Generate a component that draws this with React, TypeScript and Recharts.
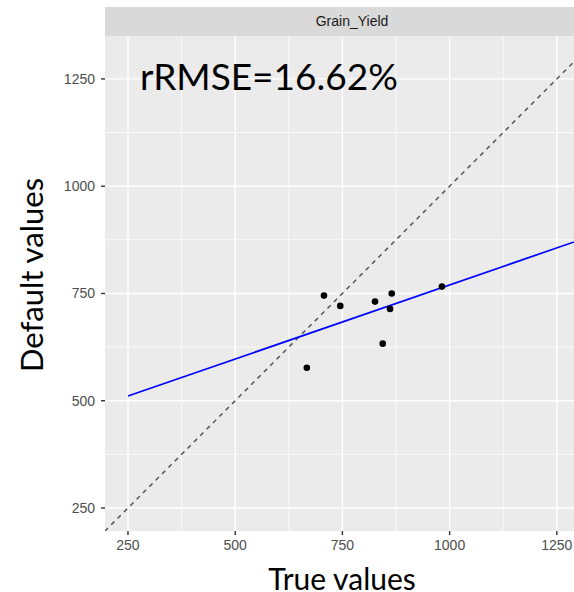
import React from 'react'
import {
  ScatterChart,
  Scatter,
  XAxis,
  YAxis,
  CartesianGrid,
} from 'recharts'

// observed points (true vs default)
const trueValues = [707, 745, 826, 865, 861, 982, 844, 667]
const defaultValues = [745, 721, 731, 750, 714, 766, 633, 577]

// fitted lm line ends
const fitX = [250, 1290]
const fitY = [511, 870]

// 1:1 line ends
const oneToOne = [196, 1290]

const majorTicks = [250, 500, 750, 1000, 1250]
const minorTicks = [375, 625, 875, 1125]

const points = trueValues.map((x, i) => ({ x, y: defaultValues[i] }))
const fitLine = fitX.map((x, i) => ({ x, y: fitY[i] }))
const idLine = oneToOne.map((v) => ({ x: v, y: v }))

const W = 574
const H = 592
const tickStyle = { fill: '#4D4D4D', fontSize: 14, fontFamily: 'Liberation Sans, Arial, sans-serif' }
const noShape = () => <g />
const dot = (p: any) => <circle cx={p.cx} cy={p.cy} r={3.3} fill="#000" />

export default function App() {
  return (
    <div style={{ position: 'absolute', left: 0, top: 0, width: W, height: H, background: '#fff', overflow: 'hidden' }}>
      <ScatterChart
        width={W}
        height={H}
        margin={{ top: 36, right: 0, bottom: 0, left: 0 }}
      >
        <CartesianGrid
          fill="#EBEBEB"
          stroke="#FFFFFF"
          strokeWidth={0.7}
          horizontalValues={minorTicks}
          verticalValues={minorTicks}
        />
        <CartesianGrid
          stroke="#FFFFFF"
          strokeWidth={1.4}
          horizontalValues={majorTicks}
          verticalValues={majorTicks}
        />
        <XAxis
          type="number"
          dataKey="x"
          height={61}
          domain={[196.4, 1290]}
          allowDataOverflow
          ticks={majorTicks}
          axisLine={false}
          tickLine={{ stroke: '#333333', strokeWidth: 1.4 }}
          tickSize={4}
          tickMargin={5}
          tick={tickStyle}
        />
        <YAxis
          type="number"
          dataKey="y"
          width={105}
          domain={[196.4, 1350]}
          allowDataOverflow
          ticks={majorTicks}
          axisLine={false}
          tickLine={{ stroke: '#333333', strokeWidth: 1.4 }}
          tickSize={4}
          tickMargin={6}
          tick={tickStyle}
        />
        <Scatter
          data={idLine}
          line={{ stroke: '#555555', strokeWidth: 1.5, strokeDasharray: '4.5 4.5' }}
          shape={noShape}
          isAnimationActive={false}
        />
        <Scatter
          data={fitLine}
          line={{ stroke: '#0000FF', strokeWidth: 1.7 }}
          shape={noShape}
          isAnimationActive={false}
        />
        <Scatter data={points} shape={dot} isAnimationActive={false} />
      </ScatterChart>

      {/* facet strip */}
      <div
        style={{
          position: 'absolute',
          left: 105,
          top: 7,
          width: W - 105,
          height: 29,
          background: '#D9D9D9',
          overflow: 'hidden',
        }}
      >
        <span
          style={{
            position: 'absolute',
            left: 247,
            top: 0,
            transform: 'translateX(-50%)',
            lineHeight: '29px',
            fontSize: 14,
            color: '#1A1A1A',
            fontFamily: 'Liberation Sans, Arial, sans-serif',
            whiteSpace: 'nowrap',
          }}
        >
          Grain_Yield
        </span>
      </div>

      <div
        style={{
          position: 'absolute',
          left: 140,
          top: 57,
          fontSize: 37,
          lineHeight: 1,
          fontFamily: 'Lato, sans-serif',
          color: '#000',
          whiteSpace: 'nowrap',
        }}
      >
        rRMSE=16.62%
      </div>

      <div
        style={{
          position: 'absolute',
          left: 31,
          top: 275,
          transform: 'translate(-50%, -50%) rotate(-90deg)',
          fontSize: 31,
          lineHeight: 1,
          fontFamily: 'Lato, sans-serif',
          color: '#000',
          whiteSpace: 'nowrap',
        }}
      >
        Default values
      </div>

      <div
        style={{
          position: 'absolute',
          left: 342,
          top: 566,
          transform: 'translateX(-50%)',
          fontSize: 30,
          lineHeight: '24px',
          fontFamily: 'Lato, sans-serif',
          color: '#000',
          whiteSpace: 'nowrap',
        }}
      >
        True values
      </div>
    </div>
  )
}
